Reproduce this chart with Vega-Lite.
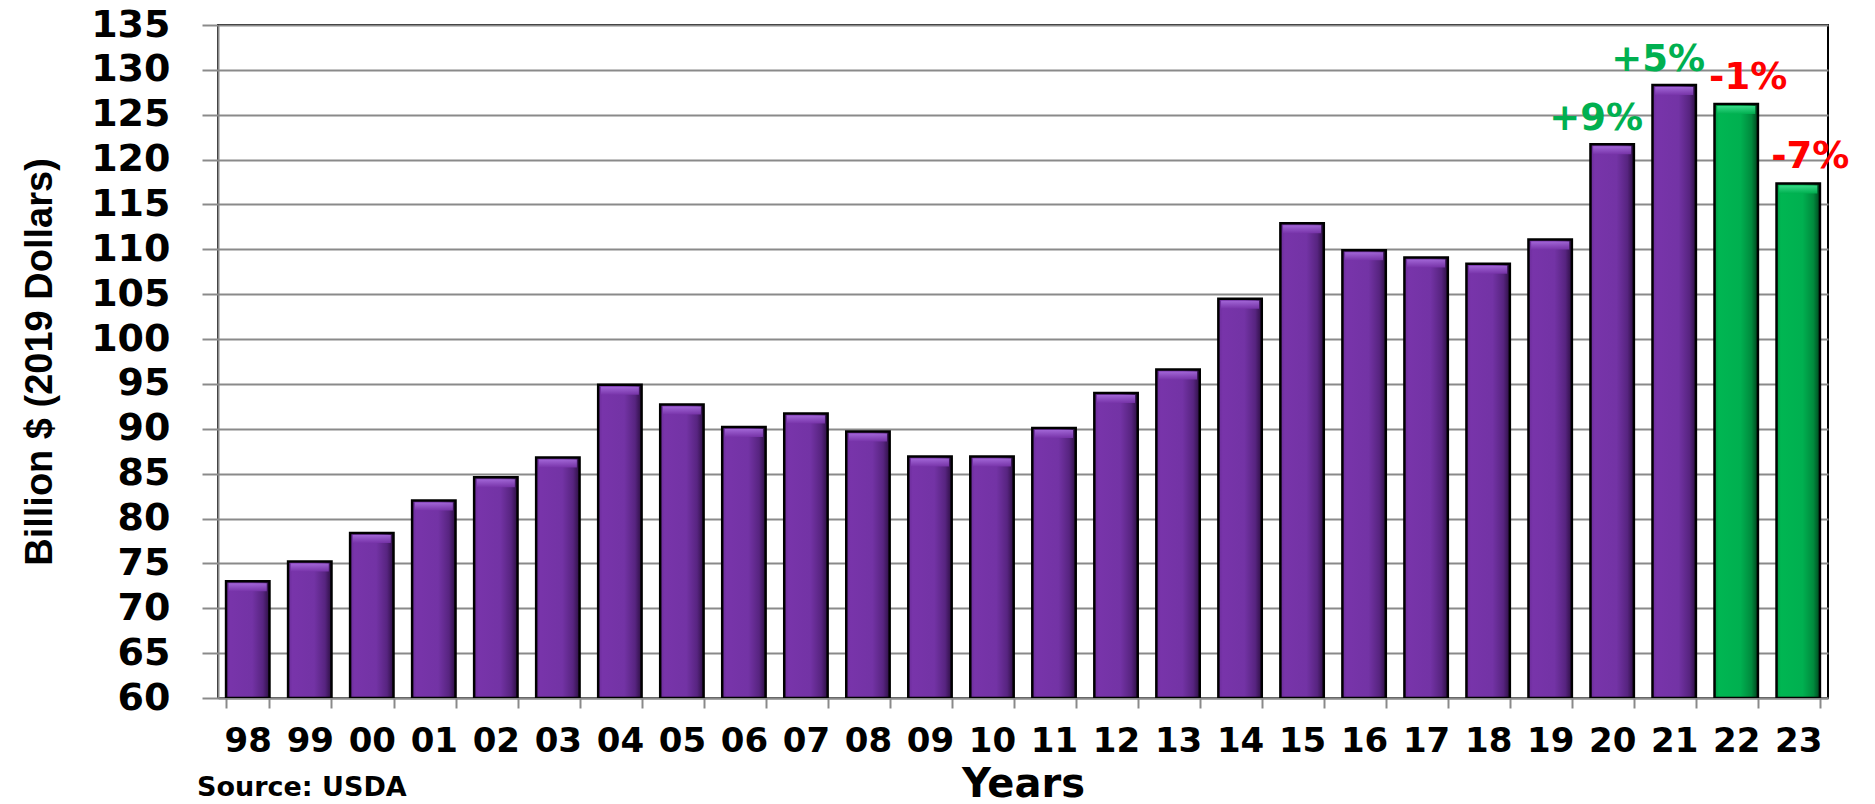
{
  "$schema": "https://vega.github.io/schema/vega-lite/v6.json",
  "width": 1610,
  "height": 673,
  "autosize": {"type": "none"},
  "padding": {"left": 218, "top": 25, "right": 47, "bottom": 106},
  "background": "#ffffff",
  "title": {
    "text": "Source: USDA",
    "orient": "bottom",
    "anchor": "start",
    "frame": "group",
    "font": "DejaVu Sans",
    "fontWeight": "bold",
    "fontSize": 27,
    "color": "#000000",
    "dx": -21,
    "dy": -29,
    "offset": 0
  },
  "data": {
    "values": [
      {"yr": "98", "value": 73.0, "kind": "actual", "chg": null},
      {"yr": "99", "value": 75.2, "kind": "actual", "chg": null},
      {"yr": "00", "value": 78.4, "kind": "actual", "chg": null},
      {"yr": "01", "value": 82.0, "kind": "actual", "chg": null},
      {"yr": "02", "value": 84.6, "kind": "actual", "chg": null},
      {"yr": "03", "value": 86.8, "kind": "actual", "chg": null},
      {"yr": "04", "value": 94.9, "kind": "actual", "chg": null},
      {"yr": "05", "value": 92.7, "kind": "actual", "chg": null},
      {"yr": "06", "value": 90.2, "kind": "actual", "chg": null},
      {"yr": "07", "value": 91.7, "kind": "actual", "chg": null},
      {"yr": "08", "value": 89.7, "kind": "actual", "chg": null},
      {"yr": "09", "value": 86.9, "kind": "actual", "chg": null},
      {"yr": "10", "value": 86.9, "kind": "actual", "chg": null},
      {"yr": "11", "value": 90.1, "kind": "actual", "chg": null},
      {"yr": "12", "value": 94.0, "kind": "actual", "chg": null},
      {"yr": "13", "value": 96.6, "kind": "actual", "chg": null},
      {"yr": "14", "value": 104.5, "kind": "actual", "chg": null},
      {"yr": "15", "value": 112.9, "kind": "actual", "chg": null},
      {"yr": "16", "value": 109.9, "kind": "actual", "chg": null},
      {"yr": "17", "value": 109.1, "kind": "actual", "chg": null},
      {"yr": "18", "value": 108.4, "kind": "actual", "chg": null},
      {"yr": "19", "value": 111.1, "kind": "actual", "chg": null},
      {"yr": "20", "value": 121.7, "kind": "actual", "chg": "+9%"},
      {"yr": "21", "value": 128.3, "kind": "actual", "chg": "+5%"},
      {"yr": "22", "value": 126.2, "kind": "forecast", "chg": "-1%"},
      {"yr": "23", "value": 117.35, "kind": "forecast", "chg": "-7%"}
    ]
  },
  "encoding": {
    "x": {
      "field": "yr",
      "type": "nominal",
      "sort": null,
      "scale": {"paddingInner": 0.3, "paddingOuter": 0.13},
      "axis": {
        "title": "Years",
        "labelAngle": 0,
        "tickBand": "extent",
        "titlePadding": 6
      }
    },
    "y": {
      "field": "value",
      "type": "quantitative",
      "scale": {"domain": [60, 135], "zero": false, "nice": false},
      "axis": {
        "title": "Billion $ (2019 Dollars)",
        "values": [60, 65, 70, 75, 80, 85, 90, 95, 100, 105, 110, 115, 120, 125, 130, 135],
        "titlePadding": 31
      }
    }
  },
  "layer": [
    {
      "mark": {"type": "bar", "stroke": "#000000", "strokeWidth": 2.5, "clip": true},
      "encoding": {
        "y2": {"datum": 60},
        "fill": {
          "condition": {
            "test": "datum.kind === 'forecast'",
            "value": {
              "gradient": "linear", "x1": 0, "y1": 0, "x2": 1, "y2": 0,
              "stops": [
                {"offset": 0, "color": "#009a45"},
                {"offset": 0.1, "color": "#00b652"},
                {"offset": 0.6, "color": "#00b050"},
                {"offset": 0.85, "color": "#008a3d"},
                {"offset": 1, "color": "#00441e"}
              ]
            }
          },
          "value": {
            "gradient": "linear", "x1": 0, "y1": 0, "x2": 1, "y2": 0,
            "stops": [
              {"offset": 0, "color": "#6a2c98"},
              {"offset": 0.1, "color": "#7834aa"},
              {"offset": 0.6, "color": "#7333a5"},
              {"offset": 0.85, "color": "#572480"},
              {"offset": 1, "color": "#2c0f42"}
            ]
          }
        }
      }
    },
    {
      "mark": {"type": "tick", "thickness": 8, "size": 38, "yOffset": 6, "opacity": 0.9},
      "encoding": {
        "color": {
          "condition": {
            "test": "datum.kind === 'forecast'",
            "value": {
              "gradient": "linear", "x1": 0, "y1": 0, "x2": 0, "y2": 1,
              "stops": [
                {"offset": 0, "color": "#3fe08f"},
                {"offset": 1, "color": "#00b050"}
              ]
            }
          },
          "value": {
            "gradient": "linear", "x1": 0, "y1": 0, "x2": 0, "y2": 1,
            "stops": [
              {"offset": 0, "color": "#a66bdb"},
              {"offset": 1, "color": "#7834aa"}
            ]
          }
        }
      }
    },
    {
      "transform": [{"filter": "indexof(datum.chg || '', '+') === 0"}],
      "mark": {
        "type": "text",
        "font": "DejaVu Sans",
        "fontWeight": "bold",
        "fontSize": 37,
        "color": "#00b050",
        "baseline": "alphabetic",
        "align": "center",
        "dy": -14,
        "dx": -16
      },
      "encoding": {"text": {"field": "chg"}}
    },
    {
      "transform": [{"filter": "indexof(datum.chg || '', '-') === 0"}],
      "mark": {
        "type": "text",
        "font": "DejaVu Sans",
        "fontWeight": "bold",
        "fontSize": 37,
        "color": "#ff0000",
        "baseline": "alphabetic",
        "align": "center",
        "dy": -15,
        "dx": 12
      },
      "encoding": {"text": {"field": "chg"}}
    }
  ],
  "config": {
    "view": {"stroke": "#000000", "strokeWidth": 2},
    "axis": {
      "domainColor": "#8a8a8a",
      "domainWidth": 2,
      "tickColor": "#8a8a8a",
      "tickWidth": 2,
      "labelFont": "DejaVu Sans",
      "labelFontWeight": "bold",
      "labelColor": "#000000",
      "titleColor": "#000000"
    },
    "axisX": {
      "grid": false,
      "tickSize": 10,
      "labelFontSize": 34,
      "labelPadding": 16,
      "titleFont": "DejaVu Sans",
      "titleFontWeight": "bold",
      "titleFontSize": 40
    },
    "axisY": {
      "grid": true,
      "gridColor": "#8a8a8a",
      "gridWidth": 2,
      "gridOpacity": 1,
      "tickSize": 16,
      "labelFontSize": 38,
      "labelPadding": 32,
      "titleFont": "Liberation Sans",
      "titleFontWeight": "bold",
      "titleFontSize": 38
    }
  }
}
